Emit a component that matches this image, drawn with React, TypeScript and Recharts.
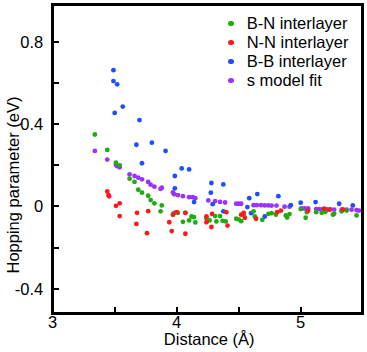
import { ScatterChart, Scatter, XAxis, YAxis } from "recharts";

// distance (Å), hopping parameter (eV)
const bnInterlayer: [number, number][] = [
  [3.34, 0.35], [3.44, 0.275], [3.51, 0.213], [3.54, 0.2], [3.62, 0.135], [3.66, 0.119],
  [3.69, 0.081], [3.72, 0.067], [3.77, 0.052], [3.79, 0.031], [3.82, 0.015], [3.87, -0.024],
  [3.88, 0.005], [3.97, -0.039], [3.98, -0.031], [4.01, -0.031], [4.05, -0.075], [4.07, -0.031],
  [4.1, -0.068], [4.12, -0.049], [4.14, -0.052], [4.15, -0.078], [4.24, -0.057], [4.265, -0.068],
  [4.31, -0.047], [4.32, -0.073], [4.35, -0.047], [4.37, -0.07], [4.395, -0.073], [4.48, -0.06],
  [4.5, -0.063], [4.52, -0.072], [4.54, -0.04], [4.62, -0.024], [4.63, -0.049], [4.69, -0.065],
  [4.74, -0.036], [4.765, -0.033], [4.8, -0.04], [4.88, -0.044], [4.89, -0.054], [4.91, -0.037],
  [5.0, -0.013], [5.04, -0.055], [5.05, -0.028], [5.125, -0.028], [5.17, -0.031], [5.2, -0.026],
  [5.26, -0.04], [5.27, -0.036], [5.33, -0.024], [5.37, -0.02], [5.45, -0.044],
];

const nnInterlayer: [number, number][] = [
  [3.44, 0.073], [3.45, 0.055], [3.455, 0.049], [3.51, 0.003], [3.54, 0.015], [3.54, -0.047],
  [3.68, -0.031], [3.675, -0.085], [3.77, -0.023], [3.76, -0.13], [3.94, -0.077], [3.97, -0.04],
  [3.96, -0.12], [4.0, -0.028], [4.07, -0.031], [4.07, -0.133], [4.24, -0.049], [4.24, -0.077],
  [4.28, -0.1], [4.285, -0.036], [4.4, -0.028], [4.41, -0.093], [4.52, -0.04], [4.54, -0.031],
  [4.55, -0.055], [4.64, -0.06], [4.81, -0.028], [4.84, -0.02], [5.06, -0.02], [5.19, -0.011],
  [5.23, -0.016], [5.34, -0.015],
];

const bbInterlayer: [number, number][] = [
  [3.49, 0.663], [3.49, 0.61], [3.52, 0.594], [3.565, 0.486], [3.5, 0.455], [3.7, 0.42],
  [3.675, 0.3], [3.8, 0.31], [3.91, 0.27], [3.72, 0.21], [4.04, 0.185], [4.1, 0.18],
  [3.985, 0.148], [3.985, 0.088], [4.14, 0.021], [4.28, 0.114], [4.275, 0.067], [4.376, 0.107],
  [4.29, 0.011], [4.376, -0.024], [4.57, -0.003], [4.585, 0.04], [4.65, 0.06], [4.6, -0.033],
  [4.71, -0.049], [4.82, 0.05], [4.92, 0.006], [5.0, 0.018], [5.12, 0.021], [5.31, 0.013],
  [5.42, 0.005],
];

const sModelFit: [number, number][] = [
  [3.34, 0.27], [3.44, 0.228], [3.51, 0.203], [3.52, 0.196], [3.54, 0.19], [3.62, 0.156],
  [3.66, 0.148], [3.69, 0.14], [3.72, 0.132], [3.77, 0.119], [3.79, 0.106], [3.82, 0.096],
  [3.87, 0.085], [3.88, 0.091], [3.97, 0.068], [3.98, 0.059], [4.01, 0.055], [4.05, 0.05],
  [4.1, 0.045], [4.13, 0.045], [4.15, 0.04], [4.255, 0.029], [4.31, 0.026], [4.35, 0.022],
  [4.39, 0.019], [4.48, 0.013], [4.5, 0.013], [4.52, 0.013], [4.62, 0.006], [4.645, 0.006],
  [4.68, 0.006], [4.71, 0.005], [4.74, 0.005], [4.765, 0.004], [4.805, 0.004], [4.87, -0.001],
  [4.91, -0.001], [5.005, -0.01], [5.03, -0.01], [5.06, -0.01], [5.125, -0.013], [5.15, -0.013],
  [5.18, -0.013], [5.21, -0.014], [5.24, -0.014], [5.27, -0.016], [5.33, -0.016], [5.37, -0.016],
  [5.41, -0.016], [5.45, -0.018], [5.47, -0.02],
];

const xDomain = [3, 5.5];
const yDomain = [-0.52, 0.98];
const xTicks = [3, 3.5, 4, 4.5, 5];
const xTickLabels = ["3", "", "4", "", "5"];
const yTicks = [-0.4, -0.2, 0, 0.2, 0.4, 0.6, 0.8];
const yTickLabels = ["-0.4", "", "0", "", "0.4", "", "0.8"];

const series = [
  { name: "B-N interlayer", color: "#22aa11", points: bnInterlayer },
  { name: "N-N interlayer", color: "#ff1a1a", points: nnInterlayer },
  { name: "B-B interlayer", color: "#1f4dff", points: bbInterlayer },
  { name: "s model fit", color: "#9933ff", points: sModelFit },
];
// drawing order (back to front)
const drawOrder = [3, 2, 0, 1];

const FONT = "'Liberation Sans', Arial, sans-serif";
const FS = 16.5;
const FRAME_W = 3.5;

// chart box
const W = 367;
const H = 352;
const Y_AXIS_W = 52.7;
const X_AXIS_H = 38.7;
const M = { top: 5, right: 4.3, bottom: 0, left: 0 };
const plotW = W - M.left - M.right - Y_AXIS_W;
const plotH = H - M.top - M.bottom - X_AXIS_H;
const plotX = M.left + Y_AXIS_W;
const plotY = M.top;
const sx = (v: number) => plotX + ((v - xDomain[0]) / (xDomain[1] - xDomain[0])) * plotW;
const sy = (v: number) => plotY + ((yDomain[1] - v) / (yDomain[1] - yDomain[0])) * plotH;

const XTick = ({ x, y, payload }: any) => (
  <text x={x} y={y + 14.7} textAnchor="middle" fontFamily={FONT} fontSize={FS} fill="#000">
    {xTickLabels[xTicks.indexOf(payload.value)]}
  </text>
);

const YTick = ({ x, y, payload }: any) => (
  <text x={x - 9.5} y={y + 6} textAnchor="end" fontFamily={FONT} fontSize={FS} fill="#000">
    {yTickLabels[yTicks.findIndex((t) => Math.abs(t - payload.value) < 1e-9)]}
  </text>
);

const xTitle = (props: any) => {
  const { x, y, width } = props.viewBox;
  return (
    <text x={x + width / 2 + 1.5} y={y + 31.7} textAnchor="middle" fontFamily={FONT} fontSize={FS} fill="#000">
      Distance (Å)
    </text>
  );
};

const yTitle = (props: any) => {
  const { y } = props.viewBox;
  const cx = 19;
  const cy = y + 180;
  return (
    <text x={cx} y={cy} transform={`rotate(-90, ${cx}, ${cy})`} textAnchor="middle" fontFamily={FONT} fontSize={FS} fill="#000">
      Hopping parameter (eV)
    </text>
  );
};

// thick box + inward ticks as an overlay on the plot area
const Frame = () => (
  <div style={{ position: "absolute", left: 0, top: 0, width: W, height: H, pointerEvents: "none" }}>
    <div
      style={{
        position: "absolute",
        left: plotX - FRAME_W / 2,
        top: plotY - FRAME_W / 2,
        width: plotW + FRAME_W,
        height: plotH + FRAME_W,
        border: `${FRAME_W}px solid #000`,
        boxSizing: "border-box",
      }}
    />
    {xTicks.map((t) => (
      <div key={`x${t}`} style={{ position: "absolute", left: sx(t) - 1, top: plotY + plotH - 6.5, width: 2, height: 6.5, background: "#000" }} />
    ))}
    {yTicks.map((t) => (
      <div key={`y${t}`} style={{ position: "absolute", left: plotX, top: sy(t) - 1, width: 6.5, height: 2, background: "#000" }} />
    ))}
  </div>
);

const LegendBox = () => (
  <ul style={{ position: "absolute", top: 13.75, left: 226, listStyle: "none", margin: 0, padding: 0, fontFamily: FONT, fontSize: FS, color: "#000" }}>
    {series.map((s) => (
      <li key={s.name} style={{ display: "flex", alignItems: "center", height: 19.1, whiteSpace: "nowrap" }}>
        <span style={{ display: "inline-block", width: 5.2, height: 5.2, borderRadius: "50%", background: s.color, marginLeft: 2.4 }} />
        <span style={{ marginLeft: 13.1 }}>{s.name}</span>
      </li>
    ))}
  </ul>
);

export default function App() {
  return (
    <div>
      <style>{"body{margin:0}"}</style>
      <div style={{ position: "relative", width: W, height: H }}>
        <ScatterChart width={W} height={H} margin={M}>
          <XAxis
            type="number"
            dataKey="x"
            domain={xDomain}
            ticks={xTicks}
            allowDataOverflow
            axisLine={false}
            tickLine={false}
            tickSize={0}
            tickMargin={0}
            height={X_AXIS_H}
            tick={<XTick />}
            interval={0}
            label={xTitle}
          />
          <YAxis
            type="number"
            dataKey="y"
            domain={yDomain}
            ticks={yTicks}
            allowDataOverflow
            axisLine={false}
            tickLine={false}
            tickSize={0}
            tickMargin={0}
            width={Y_AXIS_W}
            tick={<YTick />}
            interval={0}
            label={yTitle}
          />
          {drawOrder.map((i) => {
            const s = series[i];
            return (
              <Scatter
                key={s.name}
                name={s.name}
                data={s.points.map(([x, y]) => ({ x, y }))}
                fill={s.color}
                isAnimationActive={false}
                shape={(p: any) => <circle cx={p.cx} cy={p.cy} r={2.4} fill={s.color} />}
              />
            );
          })}
        </ScatterChart>
        <Frame />
        <LegendBox />
      </div>
    </div>
  );
}
